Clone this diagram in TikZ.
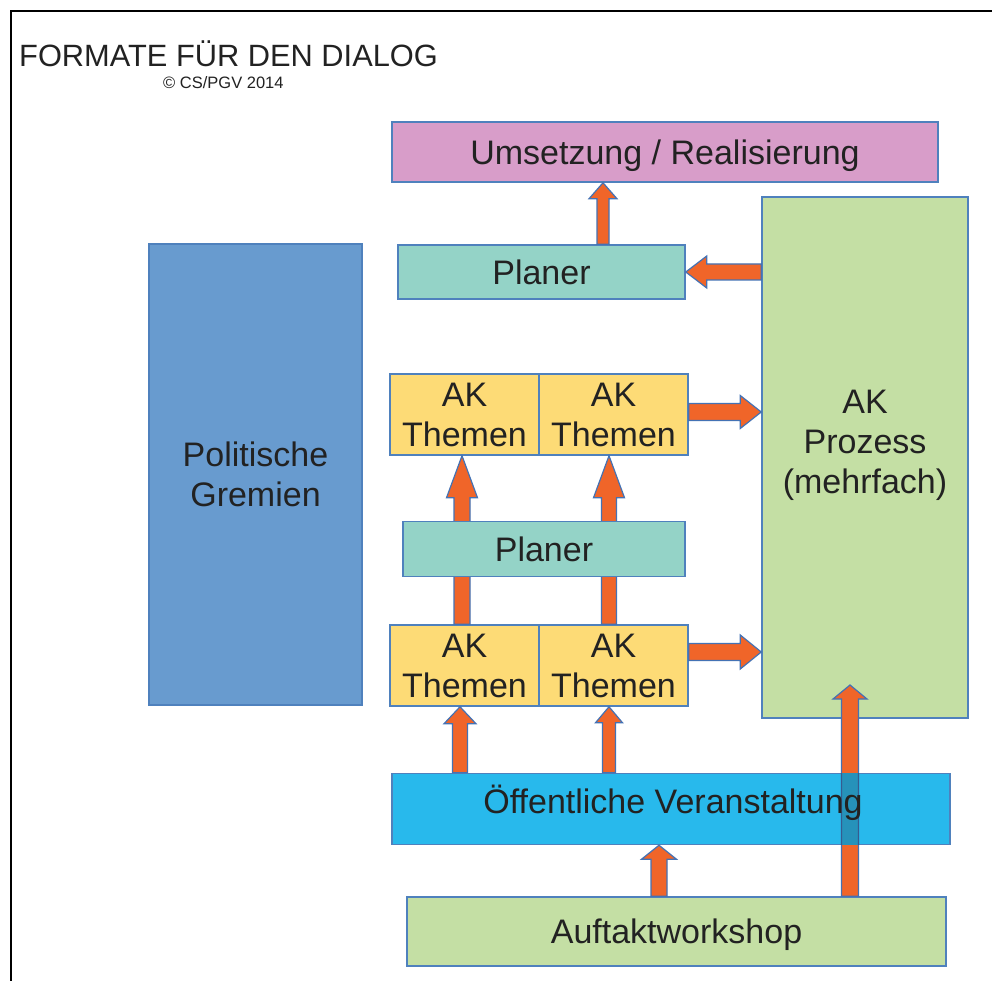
\documentclass[tikz,border=0pt]{standalone}
\usepackage{fontspec}
\setmainfont{Liberation Sans}
\usetikzlibrary{calc}
\definecolor{umsc}{RGB}{216,157,201}
\definecolor{planc}{RGB}{148,211,199}
\definecolor{greenc}{RGB}{196,223,164}
\definecolor{polc}{RGB}{104,155,207}
\definecolor{akc}{RGB}{253,219,118}
\definecolor{oefc}{RGB}{40,185,236}
\definecolor{overlapc}{RGB}{38,146,186}
\definecolor{borderc}{RGB}{79,129,189}
\definecolor{arrowc}{RGB}{240,101,41}
\definecolor{arrowline}{RGB}{68,114,180}
\definecolor{txtc}{RGB}{34,34,34}
\tikzset{
  box/.style={draw=borderc, line width=1.5pt, inner sep=0pt, align=center,
    font=\fontsize{34}{40}\selectfont, text=txtc},
  oneline/.style={text height=24.5pt, text depth=0pt},
  boxtext/.style={inner sep=0pt, align=center, font=\fontsize{34}{40}\selectfont, text=txtc},
  arrowsty/.style={fill=arrowc, draw=arrowline, line width=1.2pt, line join=miter},
}
% block arrow: start, end, half shaft, half head, head length
\newcommand\blockarrow[5]{%
  \coordinate (bh) at ($(#2)!#5!(#1)$);
  \draw[arrowsty] ($(#1)!#3!90:(#2)$) -- ($(bh)!#3!90:(#2)$) -- ($(bh)!#4!90:(#2)$)
    -- (#2) -- ($(bh)!#4!-90:(#2)$) -- ($(bh)!#3!-90:(#2)$) -- ($(#1)!#3!-90:(#2)$) -- cycle;
}
\begin{document}
\begin{tikzpicture}[x=1pt,y=-1pt]
\useasboundingbox (0,0) rectangle (992,981);
\fill[white] (0,0) rectangle (992,981);
% frame
\draw[line width=2.5pt, black] (992,11) -- (11,11) -- (11,981);
% title
\node[anchor=base west, inner sep=0pt, text=txtc, font=\fontsize{30.8}{34}\selectfont] (title) at (19,67) {FORMATE FÜR DEN DIALOG};
\node[anchor=base west, inner sep=0pt, text=txtc, font=\fontsize{16.5}{18}\selectfont] (copy) at (163,89) {© CS/PGV 2014};

% boxes
\node[box, fill=polc, minimum width=213pt, minimum height=461pt] (pol) at (255.5,474.5) {Politische\\Gremien};
\node[box, oneline, fill=umsc, minimum width=546pt, minimum height=60pt] (ums) at (665,152) {Umsetzung / Realisierung};
\node[box, oneline, fill=planc, minimum width=287pt, minimum height=54pt] (plan1) at (541.5,272) {Planer};
\node[box, fill=greenc, minimum width=206pt, minimum height=521pt] (akp) at (865,457.5) {};
\node[boxtext] (akpt) at ($(akp.center)+(0,-12)$) {AK\\Prozess\\(mehrfach)};
\node[box, fill=akc, minimum width=149pt, minimum height=81pt] (ak1) at (464.5,414.5) {AK\\Themen};
\node[box, fill=akc, minimum width=149pt, minimum height=81pt] (ak2) at (613.5,414.5) {AK\\Themen};
\node[box, fill=akc, minimum width=149pt, minimum height=81pt] (ak3) at (464.5,665.5) {AK\\Themen};
\node[box, fill=akc, minimum width=149pt, minimum height=81pt] (ak4) at (613.5,665.5) {AK\\Themen};
\node[box, oneline, fill=greenc, minimum width=539pt, minimum height=69pt] (auf) at (676.5,931.5) {Auftaktworkshop};

% helper columns / rows
\coordinate (c1) at (603,0);
\coordinate (cl) at (462,0);
\coordinate (cr) at (609,0);
\coordinate (r3) at (0,412);
\coordinate (r4) at (0,652);
\coordinate (c11) at (850,0);
\coordinate (t11) at (850,685);
\coordinate (c10) at (659,0);
\coordinate (c8) at (460,0);

% arrows behind overlying boxes
\blockarrow{plan1.north -| c1}{ums.south -| c1}{6pt}{14pt}{16pt}
\blockarrow{akp.west |- plan1.east}{plan1.east}{8pt}{16pt}{21pt}
\blockarrow{ak2.east |- r3}{akp.west |- r3}{8.5pt}{16.5pt}{21pt}
\blockarrow{ak4.east |- r4}{akp.west |- r4}{8.5pt}{17pt}{21pt}
\blockarrow{ak3.north -| cl}{ak1.south -| cl}{8pt}{15.5pt}{42pt}
\blockarrow{ak4.north -| cr}{ak2.south -| cr}{7.5pt}{15.5pt}{42pt}
\blockarrow{auf.north -| c11}{t11}{8.5pt}{17pt}{14pt}

% overlying boxes
\node[box, oneline, fill=planc, minimum width=282pt, minimum height=55pt] (plan2) at (544,549) {Planer};
\node[box, fill=oefc, minimum width=558pt, minimum height=71pt] (oef) at (671,809) {};
% arrow seen through the translucent box
\begin{scope}[arrowsty/.style={fill=overlapc, draw=arrowline!80!black, line width=1.2pt}]
  \clip ($(oef.south west)+(0,-1)$) rectangle ($(oef.north east)+(0,1)$);
  \blockarrow{auf.north -| c11}{t11}{8.5pt}{17pt}{14pt}
\end{scope}
\node[boxtext, oneline] (oeft) at ($(oef.center)+(2,-8)$) {Öffentliche Veranstaltung};

% remaining arrows
\blockarrow{oef.north -| c8}{ak3.south -| c8}{7.5pt}{16pt}{17pt}
\blockarrow{oef.north -| cr}{ak4.south -| cr}{6.5pt}{13.5pt}{16pt}
\blockarrow{auf.north -| c10}{oef.south -| c10}{8pt}{17.5pt}{14pt}
\end{tikzpicture}
\end{document}
